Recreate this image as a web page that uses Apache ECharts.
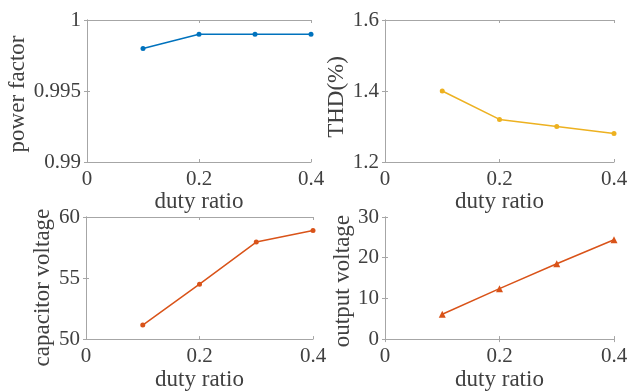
<!DOCTYPE html>
<html><head><meta charset="utf-8">
<script src="https://cdn.jsdelivr.net/npm/echarts@6/dist/echarts.min.js"></script>
<style>html,body{margin:0;padding:0;background:#fff}#c{width:640px;height:392px}</style>
</head><body><div id="c"></div>
<script>
const dutyRatio = [0.1, 0.2, 0.3, 0.4];
const powerFactor = [0.998, 0.999, 0.999, 0.999];
const thd = [1.40, 1.32, 1.30, 1.28];
const capacitorVoltage = [51.15, 54.5, 57.95, 58.9];
const outputVoltage = [6.1, 12.4, 18.5, 24.4];

const xTicks = [0, 0.2, 0.4];
const yRanges = [[0.99, 1, 0.005], [1.2, 1.6, 0.2], [50, 60, 5], [0, 30, 10]];
const yNames = ['power factor', 'THD(%)', 'capacitor voltage', 'output voltage'];
const xName = 'duty ratio';
const colors = ['#0072BD', '#EDB120', '#D95319', '#D95319'];
const symbols = ['circle', 'circle', 'circle', 'triangle'];
const seriesData = [powerFactor, thd, capacitorVoltage, outputVoltage];

const grids = [
  {left: 87, top: 20, width: 224, height: 142},
  {left: 385, top: 20, width: 229, height: 142},
  {left: 86, top: 217, width: 227, height: 133},
  {left: 385, top: 217, width: 229, height: 133}
];
const yNameGaps = [53, 36, 32, 31];
const yNameShift = [6, 12, 19, 6];
const FONT = '"Liberation Serif", "DejaVu Serif", serif';
const AX = '#a6a6a6';
const TXT = '#404040';

const xAxis = [], yAxis = [], series = [];
grids.forEach((g, i) => {
  const fmt = v => String(+v.toFixed(4));
  xAxis.push({
    gridIndex: i, type: 'value', min: xTicks[0], max: xTicks[xTicks.length - 1], interval: 0.2,
    name: xName, nameLocation: 'middle', nameGap: 15,
    nameTextStyle: {fontFamily: FONT, fontSize: 23, color: TXT},
    axisLine: {show: true, lineStyle: {color: AX, width: 1}},
    axisTick: {show: true, inside: true, length: 3, lineStyle: {color: AX}},
    axisLabel: {fontFamily: FONT, fontSize: 21, color: TXT, margin: 7, formatter: fmt},
    splitLine: {show: false}
  });
  xAxis.push({
    gridIndex: i, type: 'value', position: 'top', min: xTicks[0], max: xTicks[xTicks.length - 1], interval: 0.2,
    axisLine: {show: true, lineStyle: {color: AX, width: 1}},
    axisTick: {show: true, inside: true, length: 3, lineStyle: {color: AX}},
    axisLabel: {show: false}, splitLine: {show: false}
  });
  const r = yRanges[i];
  yAxis.push({
    gridIndex: i, type: 'value', min: r[0], max: r[1], interval: r[2],
    name: yNames[i], nameLocation: 'middle', nameGap: yNameGaps[i],
    nameTextStyle: {fontFamily: FONT, fontSize: 23, color: TXT, padding: [0, yNameShift[i], 0, 0]},
    axisLine: {show: true, lineStyle: {color: AX, width: 1}},
    axisTick: {show: true, inside: true, length: 3, lineStyle: {color: AX}},
    axisLabel: {fontFamily: FONT, fontSize: 21, color: TXT, margin: 6, formatter: fmt},
    splitLine: {show: false}
  });
  yAxis.push({
    gridIndex: i, type: 'value', position: 'right', min: r[0], max: r[1], interval: r[2],
    axisLine: {show: true, lineStyle: {color: AX, width: 1}},
    axisTick: {show: true, inside: true, length: 3, lineStyle: {color: AX}},
    axisLabel: {show: false}, splitLine: {show: false}
  });
  series.push({
    type: 'line', xAxisIndex: i * 2, yAxisIndex: i * 2,
    data: dutyRatio.map((x, k) => [x, seriesData[i][k]]),
    symbol: symbols[i], symbolSize: symbols[i] === 'triangle' ? 7 : 5,
    showSymbol: true,
    lineStyle: {color: colors[i], width: 1.5},
    itemStyle: {color: colors[i]},
    animation: false
  });
});

const chart = echarts.init(document.getElementById('c'), null, {renderer: 'canvas'});
chart.setOption({
  backgroundColor: '#fff',
  animation: false,
  grid: grids.map(g => Object.assign({containLabel: false}, g)),
  xAxis, yAxis, series
});
</script>
</body></html>
